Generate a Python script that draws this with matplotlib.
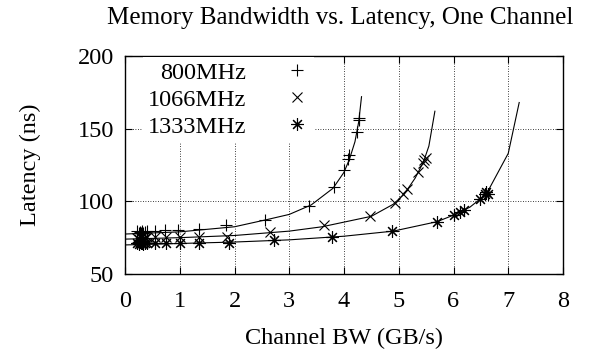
import numpy as np
import matplotlib
matplotlib.use("Agg")
import matplotlib.pyplot as plt

bw_800 = [0.22, 0.25, 0.27, 0.29, 0.31, 0.33, 0.36, 0.40, 0.55, 0.73, 0.97,
          1.35, 1.84, 2.56, 3.36, 3.82, 4.00, 4.07, 4.10, 4.23, 4.27, 4.27]
lat_800 = [79.5, 78.5, 79.0, 78.0, 79.5, 78.5, 79.0, 79.5, 79.5, 80.0, 80.0,
           81.0, 83.5, 87.4, 96.8, 109.9, 121.8, 129.4, 131.6, 147.7, 156.2, 157.6]

bw_1066 = [0.22, 0.25, 0.27, 0.29, 0.31, 0.33, 0.36, 0.40, 0.55, 0.75, 1.00,
           1.36, 1.87, 2.65, 3.63, 4.48, 4.93, 5.08, 5.15, 5.35, 5.45, 5.47, 5.49]
lat_1066 = [75.0, 74.0, 76.0, 74.5, 75.5, 74.0, 75.0, 75.5, 75.5, 75.5, 75.5,
            75.5, 75.5, 78.9, 83.5, 89.7, 99.0, 105.3, 108.3, 120.0, 126.5, 128.5, 129.5]

bw_1333 = [0.22, 0.25, 0.27, 0.29, 0.31, 0.33, 0.36, 0.40, 0.55, 0.75, 1.00,
           1.36, 1.90, 2.73, 3.78, 4.87, 5.69, 6.01, 6.12, 6.19, 6.48, 6.57, 6.60, 6.63]
lat_1333 = [71.0, 70.5, 72.0, 71.0, 71.5, 70.5, 71.0, 71.5, 71.5, 71.3, 71.3,
            71.3, 71.3, 73.2, 75.5, 79.4, 85.8, 90.8, 92.7, 93.8, 101.8, 105.3, 106.4, 104.8]

# model curves
fit_bw_800 = [0.0, 1.0, 2.0, 2.6, 3.0, 3.4, 3.8, 4.0, 4.1, 4.2, 4.27, 4.32]
fit_lat_800 = [77.5, 79.0, 82.5, 87.5, 91.0, 97.5, 109.0, 120.0, 129.0, 141.0, 155.0, 172.0]

fit_bw_1066 = [0.0, 1.0, 2.0, 3.0, 3.6, 4.5, 4.9, 5.1, 5.3, 5.45, 5.55, 5.66]
fit_lat_1066 = [74.0, 75.0, 76.5, 79.5, 82.5, 89.7, 98.0, 105.0, 116.0, 127.0, 138.0, 162.0]

fit_bw_1333 = [0.0, 1.0, 2.0, 3.0, 4.0, 4.9, 5.7, 6.0, 6.3, 6.6, 7.0, 7.2]
fit_lat_1333 = [70.0, 71.0, 72.0, 73.5, 76.0, 79.5, 86.0, 90.5, 96.0, 105.0, 133.0, 168.0]

labels = ['800MHz', '1066MHz', '1333MHz']

plt.rcParams['font.family'] = ['Liberation Serif', 'DejaVu Serif']
FS = 17.5

fig = plt.figure(figsize=(5.89, 3.52), dpi=100)
ax = fig.add_axes([125/589, 1 - 274/352, 438/589, 218/352])

ax.plot(fit_bw_800, fit_lat_800, color='black', lw=0.8)
ax.plot(fit_bw_1066, fit_lat_1066, color='black', lw=0.8)
ax.plot(fit_bw_1333, fit_lat_1333, color='black', lw=0.8)

ax.plot(bw_800, lat_800, ls='none', marker='+', ms=9, mew=0.8, color='black', label=labels[0])
ax.plot(bw_1066, lat_1066, ls='none', marker='x', ms=7.5, mew=0.8, color='black', label=labels[1])
ax.plot(bw_1333, lat_1333, ls='none', marker=(8, 2, 0), ms=9, mew=0.8, color='black', label=labels[2])

ax.set_xlim(0, 8)
ax.set_ylim(50, 200)
ax.set_xticks(range(0, 9))
ax.set_yticks([50, 100, 150, 200])
ax.tick_params(direction='in', top=True, right=True, labelsize=FS, length=5, width=0.8)
ax.tick_params(axis='x', pad=12)
ax.tick_params(axis='y', pad=8)
ax.grid(True, ls=(0, (1, 2)), color='black', lw=0.6)
ax.set_axisbelow(True)
for s in ax.spines.values():
    s.set_linewidth(1.0)

ax.set_xlabel('Channel BW (GB/s)', fontsize=FS, labelpad=12)
ax.set_ylabel('Latency (ns)', fontsize=FS, labelpad=26)
fig.text(340/589, 1 - 18/352, 'Memory Bandwidth vs. Latency, One Channel', fontsize=18, ha='center', va='center')

leg = ax.legend(loc='upper left', bbox_to_anchor=(0.04, 0.995), markerfirst=False, fontsize=FS,
                frameon=True, fancybox=False, framealpha=1, edgecolor='none', borderaxespad=0.0,
                handletextpad=1.6, labelspacing=0.2, handlelength=1.0, borderpad=0.2)
leg.get_frame().set_linewidth(0)
leg._legend_box.align = 'right'

fig.savefig('out.png', dpi=100)
